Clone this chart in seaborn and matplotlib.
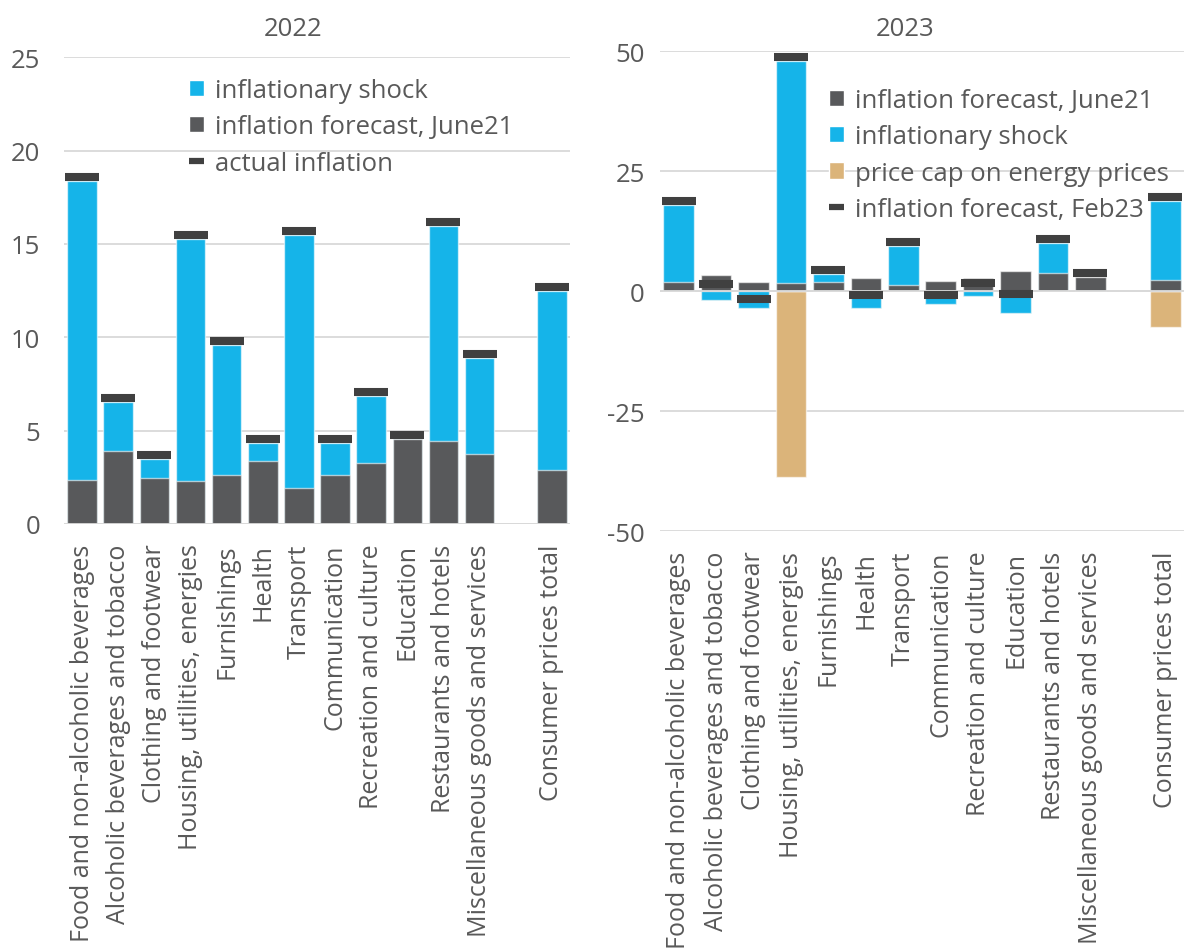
import numpy as np
import pandas as pd
import matplotlib
matplotlib.use("Agg")
import matplotlib.pyplot as plt
from matplotlib.patches import Patch
from matplotlib.lines import Line2D
import seaborn as sns

# ---- data -------------------------------------------------------------
categories = [
    "Food and non-alcoholic beverages",
    "Alcoholic beverages and tobacco",
    "Clothing and footwear",
    "Housing, utilities, energies",
    "Furnishings",
    "Health",
    "Transport",
    "Communication",
    "Recreation and culture",
    "Education",
    "Restaurants and hotels",
    "Miscellaneous goods and services",
    "Consumer prices total",
]

# 2022 (% change)
forecast_jun21_2022 = [2.36, 3.91, 2.47, 2.29, 2.61, 3.38, 1.91, 2.63, 3.27, 4.54, 4.43, 3.75, 2.88]
shock_2022 = [16.02, 2.63, 1.00, 12.98, 6.98, 0.94, 13.58, 1.69, 3.59, 0.0, 11.54, 5.15, 9.61]
actual_2022 = [18.59, 6.75, 3.68, 15.48, 9.79, 4.53, 15.70, 4.53, 7.07, 4.75, 16.18, 9.11, 12.70]

# 2023 (% change)
forecast_jun21_2023 = [2.0, 3.4, 1.94, 1.73, 2.0, 2.77, 1.38, 2.08, 2.7, 4.17, 3.88, 3.05, 2.29]
shock_2023 = [16.04, -1.8, -3.48, 46.27, 1.67, -3.48, 8.12, -2.7, -0.9, -4.6, 6.22, 0.0, 16.61]
price_cap_2023 = [0, 0, 0, -38.6, 0, 0, 0, 0, 0, 0, 0, 0, -7.5]
forecast_feb23_2023 = [18.85, 1.56, -1.57, 48.85, 4.47, -0.74, 10.3, -0.74, 1.76, -0.53, 10.9, 3.85, 19.7]

# ---- style ------------------------------------------------------------
BLUE = "#15B4E9"
GREY = "#58595B"
DARK = "#404040"
TAN = "#DBB47A"
GRID = "#D9D9D9"
TEXT = "#595959"

FS_TICK = 18.5
FS_CAT = 18
FS_LEG = 18.5
FS_TITLE = 18.5

sns.set_theme(style="white")
plt.rcParams["font.family"] = ["Open Sans", "DejaVu Sans"]
plt.rcParams["text.color"] = TEXT
plt.rcParams["xtick.color"] = TEXT
plt.rcParams["ytick.color"] = TEXT

W, H = 1186, 953
fig = plt.figure(figsize=(W / 100, H / 100), dpi=100)

# slot order leaves an empty gap before the total
order = categories[:12] + [" "] + [categories[12]]
pos = [order.index(c) for c in categories]

BAR_W = 0.82
EDGE = dict(edgecolor=(1, 1, 1, 0.6), linewidth=1.0)
MK_SIZE = 24.3 ** 2
MK_LW = 5.8


def style_axes(ax, ticks, pad_y):
    ax.set_xlim(-0.5, 13.5)
    ax.set_yticks(ticks)
    ax.set_yticklabels([str(t) for t in ticks], fontsize=FS_TICK)
    ax.set_xticks(range(len(order)))
    ax.set_xticklabels(order, rotation=90, fontsize=FS_CAT)
    ax.tick_params(axis="x", length=0, pad=14)
    ax.tick_params(axis="y", length=0, pad=pad_y)
    ax.yaxis.grid(True, color=GRID, linewidth=1.3)
    ax.xaxis.grid(False)
    ax.set_axisbelow(True)
    for s in ax.spines.values():
        s.set_visible(False)
    ax.set_xlabel("")
    ax.set_ylabel("")


def add_legend(ax, handles, labels, x_px, y_px):
    leg = ax.legend(
        handles=handles, labels=labels,
        loc="upper left", bbox_to_anchor=(x_px / W, 1 - y_px / H),
        bbox_transform=fig.transFigure, frameon=False, fontsize=FS_LEG,
        handlelength=0.6, handleheight=0.6, handletextpad=0.4,
        labelspacing=0.44, borderpad=0, borderaxespad=0,
    )
    for t in leg.get_texts():
        t.set_color(TEXT)
    return leg


dash = Line2D([], [], color=DARK, linewidth=4.5, solid_capstyle="butt")

# ---- 2022 panel ---------------------------------------------------------
ax1 = fig.add_axes([64 / W, 1 - 525 / H, (570 - 64) / W, (525 - 58.3) / H])
df22 = pd.DataFrame({
    "category": categories,
    "forecast": forecast_jun21_2022,
    "shock": shock_2022,
    "actual": actual_2022,
    "pos": pos,
})
df22["top"] = df22["forecast"] + df22["shock"]

sns.barplot(data=df22, x="category", y="top", order=order, color=BLUE,
            saturation=1, width=BAR_W, ax=ax1, **EDGE)
sns.barplot(data=df22, x="category", y="forecast", order=order, color=GREY,
            saturation=1, width=BAR_W, ax=ax1, **EDGE)
ax1.axhline(0, color=GRID, linewidth=1.3, zorder=2.5)
sns.scatterplot(data=df22, x="pos", y="actual", marker="_", s=MK_SIZE,
                linewidth=MK_LW, color=DARK, edgecolor=DARK, ax=ax1,
                zorder=3, legend=False)
ax1.set_ylim(0, 25)
style_axes(ax1, [0, 5, 10, 15, 20, 25], 17)

add_legend(ax1,
           [Patch(facecolor=BLUE), Patch(facecolor=GREY), dash],
           ["inflationary shock", "inflation forecast, June21", "actual inflation"],
           189, 79)

fig.text(293 / W, 1 - 29 / H, "2022", ha="center", va="center",
         fontsize=FS_TITLE, color=TEXT)

# ---- 2023 panel ---------------------------------------------------------
ax2 = fig.add_axes([660 / W, 1 - 532.3 / H, (1184 - 660) / W, (532.3 - 52.3) / H])
df23 = pd.DataFrame({
    "category": categories,
    "forecast": forecast_jun21_2023,
    "shock": shock_2023,
    "cap": price_cap_2023,
    "feb23": forecast_feb23_2023,
    "pos": pos,
})
# positive and negative parts are stacked separately
shock_pos = df23["shock"].clip(lower=0)
shock_neg = df23["shock"].clip(upper=0)
df23["pos_top"] = np.where(shock_pos > 0, df23["forecast"].clip(lower=0) + shock_pos, 0.0)
df23["neg_bottom"] = shock_neg + df23["cap"].clip(upper=0)
df23["shock_neg"] = shock_neg

sns.barplot(data=df23, x="category", y="pos_top", order=order, color=BLUE,
            saturation=1, width=BAR_W, ax=ax2, **EDGE)
sns.barplot(data=df23, x="category", y="neg_bottom", order=order, color=TAN,
            saturation=1, width=BAR_W, ax=ax2, **EDGE)
sns.barplot(data=df23, x="category", y="forecast", order=order, color=GREY,
            saturation=1, width=BAR_W, ax=ax2, **EDGE)
sns.barplot(data=df23, x="category", y="shock_neg", order=order, color=BLUE,
            saturation=1, width=BAR_W, ax=ax2, **EDGE)
ax2.axhline(0, color=GRID, linewidth=1.3, zorder=2.5)
sns.scatterplot(data=df23, x="pos", y="feb23", marker="_", s=MK_SIZE,
                linewidth=MK_LW, color=DARK, edgecolor=DARK, ax=ax2,
                zorder=3, legend=False)
ax2.set_ylim(-50, 50)
style_axes(ax2, [-50, -25, 0, 25, 50], 11)

add_legend(ax2,
           [Patch(facecolor=GREY), Patch(facecolor=BLUE), Patch(facecolor=TAN), dash],
           ["inflation forecast, June21", "inflationary shock",
            "price cap on energy prices", "inflation forecast, Feb23"],
           829, 89)

fig.text(905 / W, 1 - 29 / H, "2023", ha="center", va="center",
         fontsize=FS_TITLE, color=TEXT)

fig.savefig("out.png", dpi=100, facecolor="white")
